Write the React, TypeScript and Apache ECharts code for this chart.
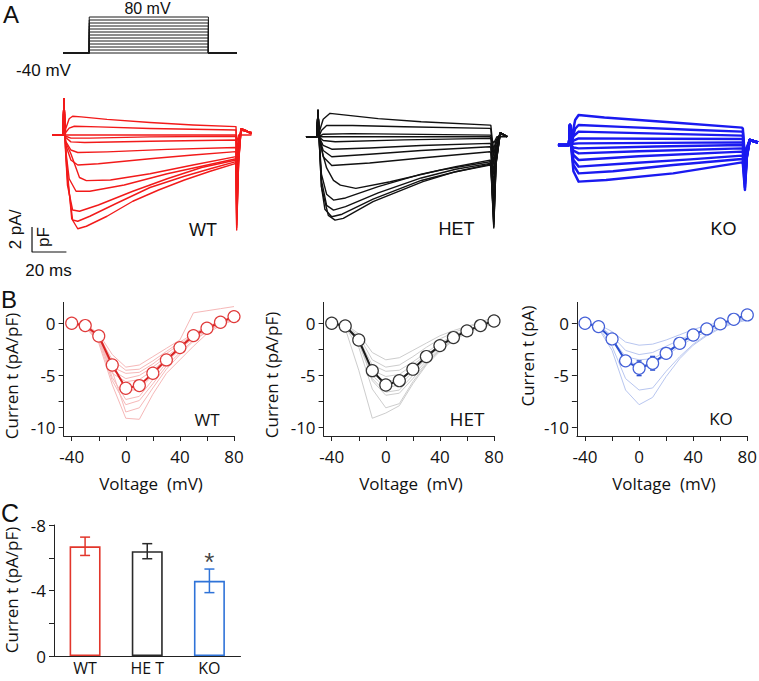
import React, { useEffect, useRef } from "react";
import * as echarts from "echarts";

// ---------- Panel A: stimulus ----------
const STEP_LEVELS = [-40, -30, -20, -10, 0, 10, 20, 30, 40, 50, 60, 70, 80]; // mV
const STEP_ON = 0;
const STEP_OFF = 100; // ms
const HOLD_START = -22;
const HOLD_END = 124;

// ---------- Panel A: current traces (ms, pA/pF) ----------
const WT_ONSET = [[-7, 0], [-0.6, 0], [0, 2.9], [0.6, 0]];
const WT_TRACES = [
  [[1, 0.5], [3, 1.3], [5, 1.5], [10, 1.45], [25, 1.25], [50, 1.0], [75, 0.8], [100, 0.67], [100.4, -1.2], [101.5, -0.3], [103, 0.5], [106, 0.3], [109, 0.2]],
  [[1, 0.2], [3, 0.55], [6, 0.7], [20, 0.65], [50, 0.52], [100, 0.4], [100.4, -2.0], [101.5, -0.5], [103, 0.4], [106, 0.3], [109, 0.2]],
  [[1, 0], [100, 0], [100.4, -0.6], [101.5, 0], [109, 0]],
  [[1, -0.1], [4, -0.25], [15, -0.25], [50, -0.15], [100, -0.1], [100.4, -3.0], [101.5, -0.8], [103, 0.4], [106, 0.3], [109, 0.2]],
  [[1, -0.2], [4, -0.55], [12, -0.6], [50, -0.5], [100, -0.4], [100.4, -4.0], [101.5, -1.0], [103, 0.4], [106, 0.3], [109, 0.15]],
  [[1, -0.5], [4, -1.2], [8, -1.4], [25, -1.35], [60, -1.15], [100, -1.0], [100.4, -4.8], [101.5, -1.3], [103, 0.4], [106, 0.3], [109, 0.1]],
  [[1, -0.8], [4, -2.0], [8, -2.4], [20, -2.3], [50, -1.9], [75, -1.6], [100, -1.33], [100.4, -5.6], [101.5, -1.5], [103, 0.5], [106, 0.3], [109, 0.1]],
  [[1, -0.6], [4, -1.5], [9, -3.4], [13, -3.65], [27, -3.6], [50, -3.1], [75, -2.4], [100, -1.73], [100.4, -6.3], [101.5, -1.8], [103, 0.5], [106, 0.3], [109, 0.1]],
  [[1, -1.2], [3, -3.5], [7, -4.5], [15, -4.5], [35, -4.0], [60, -3.1], [80, -2.5], [100, -1.9], [100.4, -6.8], [101.5, -2.0], [103, 0.5], [106, 0.35], [109, 0.1]],
  [[1, -1.5], [2, -4.0], [5, -6.0], [9, -6.1], [20, -5.6], [40, -4.5], [60, -3.5], [80, -2.6], [100, -2.0], [100.4, -7.2], [101.5, -2.1], [103, 0.5], [106, 0.35], [109, 0.1]],
  [[1, -1.5], [2, -3.5], [5, -6.8], [8, -6.9], [15, -6.5], [30, -5.5], [50, -4.2], [70, -3.3], [85, -2.7], [100, -2.13], [100.4, -7.4], [101.5, -2.2], [103, 0.5], [106, 0.35], [109, 0.1]],
  [[1, -1.2], [2, -3.0], [4.5, -6.7], [8, -7.5], [13, -7.3], [25, -6.5], [40, -5.3], [55, -4.4], [70, -3.6], [85, -2.9], [100, -2.27], [100.4, -7.6], [101.5, -2.3], [103, 0.5], [106, 0.35], [109, 0.1]],
];

const HET_ONSET = [[-7, 0], [-0.6, 0], [0, 2.1], [0.6, 0]];
const HET_TRACES = [
  [[1, 0.5], [3, 1.4], [7, 1.87], [15, 1.75], [35, 1.45], [60, 1.2], [100, 0.93], [100.5, 0.9], [102.2, -1.5], [103.5, -0.4], [106, 0.3], [110, 0]],
  [[2, 0.5], [5, 0.9], [20, 0.9], [50, 0.8], [100, 0.67], [100.5, 0.6], [102.2, -2.2], [103.5, -0.6], [106, 0.3], [110, 0]],
  [[3, 0.2], [20, 0.25], [100, 0.13], [100.5, 0.1], [102.2, -1.0], [103.5, -0.3], [106, 0.2], [110, 0]],
  [[1, 0], [100, 0], [102.2, -0.5], [104, 0], [110, 0]],
  [[3, -0.3], [10, -0.4], [50, -0.25], [100, -0.13], [100.5, -0.2], [102.2, -3.0], [103.5, -0.9], [106, 0.3], [110, 0]],
  [[3, -0.7], [8, -1.0], [30, -0.9], [60, -0.7], [100, -0.53], [100.5, -0.6], [102.2, -4.0], [103.5, -1.2], [106, 0.3], [110, 0]],
  [[3, -1.1], [8, -1.6], [30, -1.4], [60, -1.1], [100, -0.8], [100.5, -0.9], [102.2, -4.8], [103.5, -1.4], [106, 0.3], [110, 0]],
  [[3, -1.6], [8, -2.3], [30, -2.1], [60, -1.7], [100, -1.2], [100.5, -1.3], [102.2, -5.5], [103.5, -1.6], [106, 0.3], [110, 0]],
  [[3, -1.5], [5, -2.5], [9, -3.5], [13, -3.87], [22, -4.13], [42, -3.6], [71, -2.67], [100, -2.0], [100.5, -2.1], [102.2, -6.3], [103.5, -1.9], [106, 0.3], [110, 0]],
  [[2, -3.0], [5, -4.6], [9, -5.07], [16, -4.9], [35, -4.0], [60, -3.0], [80, -2.4], [100, -1.87], [100.5, -2.0], [102.2, -6.8], [103.5, -2.0], [106, 0.3], [110, 0]],
  [[2, -3.5], [5, -5.5], [9, -5.87], [16, -5.6], [35, -4.5], [60, -3.3], [80, -2.6], [100, -2.13], [100.5, -2.2], [102.2, -7.0], [103.5, -2.1], [106, 0.3], [110, 0]],
  [[2, -4.0], [4, -5.8], [8, -6.4], [14, -6.2], [32, -5.0], [60, -3.5], [80, -2.8], [100, -2.2], [100.5, -2.3], [102.2, -7.2], [103.5, -2.2], [106, 0.3], [110, 0]],
  [[2, -4.0], [3.1, -4.67], [6, -6.3], [9.9, -6.67], [14.7, -6.53], [32, -5.2], [61, -3.6], [80, -2.8], [100, -2.27], [100.5, -2.4], [102.2, -7.3], [103.5, -2.2], [106, 0.3], [110, 0]],
];

const KO_ONSET = [[-7, 0], [-0.6, 0], [0, 1.6], [0.6, 0]];
const KO_TRACES = [
  [[1, 0.6], [3, 2.0], [5, 2.4], [20, 2.2], [60, 1.8], [100, 1.39], [100.5, 1.3], [101.7, -1.0], [102.8, -0.2], [104.5, 0.4], [107, 0.3], [109.3, 0.2]],
  [[1, 0.4], [3, 1.3], [5, 1.6], [30, 1.45], [70, 1.22], [100, 1.07], [100.5, 1.0], [101.7, -1.3], [102.8, -0.3], [104.5, 0.4], [107, 0.3], [109.3, 0.2]],
  [[2, 0.7], [5, 1.07], [40, 0.95], [100, 0.75], [100.5, 0.7], [101.7, -1.6], [102.8, -0.4], [104.5, 0.4], [107, 0.3], [109.3, 0.2]],
  [[2, 0.35], [5, 0.53], [50, 0.5], [100, 0.48], [100.5, 0.45], [101.7, -1.9], [102.8, -0.5], [104.5, 0.4], [107, 0.3], [109.3, 0.2]],
  [[2, 0.1], [5, 0.13], [100, 0.21], [100.5, 0.2], [101.7, -2.1], [102.8, -0.6], [104.5, 0.4], [107, 0.3], [109.3, 0.2]],
  [[2, -0.2], [5, -0.27], [50, -0.12], [100, 0], [100.5, 0], [101.7, -2.4], [102.8, -0.7], [104.5, 0.4], [107, 0.3], [109.3, 0.2]],
  [[2, -0.45], [5, -0.67], [40, -0.5], [100, -0.27], [100.5, -0.3], [101.7, -2.7], [102.8, -0.8], [104.5, 0.4], [107, 0.3], [109.3, 0.2]],
  [[2, -0.8], [5, -1.2], [40, -0.9], [100, -0.53], [100.5, -0.6], [101.7, -2.9], [102.8, -0.9], [104.5, 0.4], [107, 0.3], [109.3, 0.2]],
  [[2, -1.2], [5, -1.73], [30, -1.5], [70, -1.15], [100, -0.85], [100.5, -0.9], [101.7, -3.1], [102.8, -0.9], [104.5, 0.4], [107, 0.3], [109.3, 0.2]],
  [[2, -1.6], [5, -2.27], [25, -2.1], [60, -1.6], [100, -1.12], [100.5, -1.2], [101.7, -3.4], [102.8, -1.0], [104.5, 0.4], [107, 0.3], [109.3, 0.2]],
  [[2, -2.1], [5, -2.93], [21, -2.8], [60, -2.27], [100, -1.39], [100.5, -1.5], [101.7, -3.6], [102.8, -1.0], [104.5, 0.4], [107, 0.3], [109.3, 0.2]],
];

// scale bar: 20 ms x 2 pA/pF
const SCALE_ORIGIN = [-18.6, -9.36];
const SCALE_MS = 20;
const SCALE_PA = 2;

// ---------- Panel B: I-V curves ----------
const VOLTS = [-40, -30, -20, -10, 0, 10, 20, 30, 40, 50, 60, 70, 80];
const WT_MEAN = [0, -0.22, -1.22, -4.0, -6.23, -5.97, -4.79, -3.51, -2.33, -1.18, -0.48, 0.1, 0.64];
const HET_MEAN = [0, -0.26, -1.6, -4.54, -5.91, -5.5, -4.4, -3.19, -2.14, -1.37, -0.73, -0.22, 0.22];
const KO_MEAN = [0, -0.32, -1.5, -3.6, -4.31, -3.83, -2.88, -1.92, -1.12, -0.54, -0.06, 0.38, 0.8];
const KO_SEM = [0, 0.05, 0.2, 0.35, 0.7, 0.65, 0.4, 0.3, 0.25, 0.2, 0.15, 0.1, 0.1];

const WT_CELLS = [
  [0, -0.1, -1.0, -3.0, -4.2, -4.0, -3.2, -2.4, -1.6, 1.0, 1.2, 1.4, 1.6],
  [0, -0.2, -1.2, -3.5, -4.5, -4.4, -3.6, -2.7, -1.8, -1.0, -0.3, 0.2, 0.6],
  [0, -0.3, -1.5, -4.2, -4.8, -4.7, -3.9, -2.9, -2.0, -1.1, -0.4, 0.1, 0.5],
  [0, -0.2, -1.3, -4.5, -5.3, -5.0, -4.2, -3.2, -2.2, -1.2, -0.5, 0.0, 0.4],
  [0, -0.3, -1.6, -4.8, -5.6, -5.4, -4.5, -3.4, -2.3, -1.3, -0.6, 0.0, 0.5],
  [0, -0.2, -1.0, -3.8, -6.5, -6.3, -5.0, -3.6, -2.4, -1.4, -0.6, 0.1, 0.7],
  [0, -0.3, -1.4, -5.2, -7.3, -7.0, -5.4, -3.8, -2.5, -1.4, -0.7, 0.1, 0.6],
  [0, -0.4, -1.7, -5.5, -7.8, -7.4, -5.8, -4.1, -2.8, -1.6, -0.8, 0.0, 0.5],
  [0, -0.2, -1.2, -4.6, -8.5, -8.1, -6.2, -4.4, -3.0, -1.7, -0.8, -0.1, 0.4],
  [0, -0.3, -1.9, -5.9, -9.1, -9.2, -6.8, -4.8, -3.5, -2.2, -1.0, -0.2, 0.3],
];
const HET_CELLS = [
  [0, -0.1, -1.0, -2.8, -3.5, -3.3, -2.6, -1.9, -1.2, -0.7, -0.3, 0.1, 0.6],
  [0, -0.2, -1.2, -3.5, -4.2, -4.0, -3.2, -2.3, -1.5, -0.9, -0.4, 0.0, 0.4],
  [0, -0.3, -1.5, -4.0, -4.6, -4.5, -3.7, -2.8, -1.9, -1.2, -0.6, -0.2, 0.3],
  [0, -0.2, -1.6, -4.5, -5.1, -4.9, -4.0, -3.0, -2.1, -1.3, -0.7, -0.2, 0.2],
  [0, -0.3, -1.8, -4.8, -5.6, -5.4, -4.3, -3.2, -2.2, -1.4, -0.8, -0.3, 0.2],
  [0, -0.2, -1.4, -5.0, -6.2, -5.9, -4.7, -3.4, -2.3, -1.5, -0.8, -0.3, 0.1],
  [0, -0.3, -1.9, -5.3, -6.6, -6.4, -5.0, -3.6, -2.5, -1.6, -0.9, -0.4, 0.0],
  [0, -0.2, -1.5, -5.5, -6.9, -6.7, -5.3, -3.8, -2.6, -1.7, -0.9, -0.4, -0.1],
  [0, -0.4, -2.3, -6.3, -8.1, -7.7, -5.6, -3.9, -2.5, -1.5, -0.8, -0.2, 0.3],
  [0, -0.5, -4.5, -9.1, -8.6, -7.9, -5.8, -4.0, -2.7, -1.6, -0.9, -0.3, 0.2],
];
const KO_CELLS = [
  [0, -0.1, -0.8, -1.8, -2.1, -2.0, -1.6, -1.1, -0.6, -0.2, 0.1, 0.3, 0.5],
  [0, -0.2, -1.2, -2.6, -3.0, -2.8, -2.2, -1.6, -1.0, -0.5, -0.1, 0.2, 0.5],
  [0, -0.3, -1.5, -3.2, -3.5, -3.4, -2.7, -1.9, -1.2, -0.6, -0.1, 0.3, 0.7],
  [0, -0.2, -1.3, -3.6, -4.0, -3.9, -3.1, -2.2, -1.4, -0.8, -0.3, 0.2, 0.6],
  [0, -0.4, -2.2, -5.3, -6.4, -6.2, -4.6, -3.2, -2.0, -1.1, -0.4, 0.1, 0.4],
  [0, -0.5, -2.6, -6.4, -7.8, -7.1, -5.1, -3.4, -2.1, -1.2, -0.5, 0.0, 0.3],
];
const IV_X_TICKS = [-40, -20, 0, 20, 40, 60, 80];
const IV_X_LABELS = [-40, 0, 40, 80];
const IV_Y_TICKS = [-10, -7.5, -5, -2.5, 0];
const IV_Y_LABELS = [-10, -5, 0];

// ---------- Panel C: peak current bars ----------
const GROUPS = ["WT", "HE T", "KO"];
const PEAK_MEAN = [-6.7, -6.4, -4.59];
const PEAK_SEM = [0.56, 0.46, 0.72];
const BAR_Y_TICKS = [-8, -6, -4, -2, 0];
const BAR_Y_LABELS = [-8, -4, 0];

const FA = "'Liberation Sans', Arial, sans-serif";
const FB = "'Open Sans', 'Noto Sans', sans-serif";

const RED = "#f21a1a";
const BLUE = "#1a1af0";
const BLACK = "#111111";

function txt(text: string, x: number, y: number, size: number, family: string, rot = 0) {
  return {
    type: "text",
    x,
    y,
    rotation: rot,
    silent: true,
    style: {
      text,
      fontSize: size,
      fontFamily: family,
      fill: "#111",
      align: "center",
      verticalAlign: "middle",
      textAlign: "center",
      textVerticalAlign: "middle",
    },
  };
}

function hiddenX(gridIndex: number, min: number, max: number) {
  return { type: "value", gridIndex, min, max, show: false };
}

function ivX(gridIndex: number) {
  return {
    type: "value",
    gridIndex,
    min: -46,
    max: 80,
    axisLine: { show: true, onZero: false, lineStyle: { color: "#222", width: 1 } },
    axisTick: { show: true, length: 5, customValues: IV_X_TICKS, lineStyle: { color: "#222" } },
    axisLabel: { customValues: IV_X_LABELS, margin: 12, fontSize: 17, fontFamily: FB, color: "#111" },
    splitLine: { show: false },
  };
}
function ivY(gridIndex: number) {
  return {
    type: "value",
    gridIndex,
    min: -10.8,
    max: 2,
    axisLine: { show: true, onZero: false, lineStyle: { color: "#222", width: 1 } },
    axisTick: { show: true, length: 5, customValues: IV_Y_TICKS, lineStyle: { color: "#222" } },
    axisLabel: { customValues: IV_Y_LABELS, margin: 8, fontSize: 17, fontFamily: FB, color: "#111" },
    splitLine: { show: false },
  };
}

function errRender(colorFor: (i: number) => string, cap: number, width: number) {
  return (params: any, api: any) => {
    const x = api.value(0);
    const lo = api.coord([x, api.value(1)]);
    const hi = api.coord([x, api.value(2)]);
    const c = colorFor(params.dataIndex);
    const st = { stroke: c, lineWidth: width };
    return {
      type: "group",
      children: [
        { type: "line", shape: { x1: lo[0], y1: lo[1], x2: hi[0], y2: hi[1] }, style: st },
        { type: "line", shape: { x1: lo[0] - cap, y1: lo[1], x2: lo[0] + cap, y2: lo[1] }, style: st },
        { type: "line", shape: { x1: hi[0] - cap, y1: hi[1], x2: hi[0] + cap, y2: hi[1] }, style: st },
      ],
    };
  };
}

function buildOption() {
  const series: any[] = [];

  // stimulus
  STEP_LEVELS.forEach((v) => {
    series.push({
      type: "line",
      xAxisIndex: 0,
      yAxisIndex: 0,
      data: [[HOLD_START, -40], [STEP_ON, -40], [STEP_ON, v], [STEP_OFF, v], [STEP_OFF, -40], [HOLD_END, -40]],
      symbol: "none",
      clip: false,
      silent: true,
      lineStyle: { color: "#1a1a1a", width: 1 },
    });
  });

  const traceGroups: [number[][], number[][][], string, number, number][] = [
    [WT_ONSET, WT_TRACES, RED, 1, 1.4],
    [HET_ONSET, HET_TRACES, BLACK, 2, 1.4],
    [KO_ONSET, KO_TRACES, BLUE, 3, 2.5],
  ];
  traceGroups.forEach(([onset, traces, color, idx, w]) => {
    traces.forEach((tr) => {
      series.push({
        type: "line",
        xAxisIndex: idx,
        yAxisIndex: idx,
        data: [...onset, ...tr],
        symbol: "none",
        clip: false,
        silent: true,
        lineStyle: { color, width: w, join: "round" },
      });
    });
  });

  // scale bar
  series.push({
    type: "line",
    xAxisIndex: 1,
    yAxisIndex: 1,
    data: [
      [SCALE_ORIGIN[0], SCALE_ORIGIN[1] + SCALE_PA],
      [SCALE_ORIGIN[0], SCALE_ORIGIN[1]],
      [SCALE_ORIGIN[0] + SCALE_MS, SCALE_ORIGIN[1]],
    ],
    symbol: "none",
    clip: false,
    silent: true,
    lineStyle: { color: "#111", width: 1.2 },
  });

  // IV panels
  const ivGroups: [number[][], number[], string, string, string, number][] = [
    [WT_CELLS, WT_MEAN, "#f6b8b8", "#d92222", "#e03a3a", 4],
    [HET_CELLS, HET_MEAN, "#cdcdcd", "#1a1a1a", "#333333", 5],
    [KO_CELLS, KO_MEAN, "#b8c6f0", "#2b4fd0", "#4460d8", 6],
  ];
  ivGroups.forEach(([cells, mean, cellColor, meanColor, ring, idx]) => {
    cells.forEach((c) => {
      series.push({
        type: "line",
        xAxisIndex: idx,
        yAxisIndex: idx,
        data: VOLTS.map((v, i) => [v, c[i]]),
        symbol: "none",
        silent: true,
        z: 2,
        lineStyle: { color: cellColor, width: 1 },
      });
    });
    series.push({
      type: "line",
      xAxisIndex: idx,
      yAxisIndex: idx,
      data: VOLTS.map((v, i) => [v, mean[i]]),
      symbol: "circle",
      symbolSize: 12,
      silent: true,
      z: 5,
      itemStyle: { color: "#ffffff", borderColor: ring, borderWidth: 1.2 },
      lineStyle: { color: meanColor, width: 2 },
    });
  });
  series.push({
    type: "custom",
    xAxisIndex: 6,
    yAxisIndex: 6,
    z: 4,
    silent: true,
    data: VOLTS.map((v, i) => [v, KO_MEAN[i] - KO_SEM[i], KO_MEAN[i] + KO_SEM[i]]),
    renderItem: errRender(() => "#2b4fd0", 2.5, 1.5),
  });

  // bars
  const BAR_COLORS = ["#e2362b", "#2a2a2a", "#2f73d8"];
  series.push({
    type: "bar",
    xAxisIndex: 7,
    yAxisIndex: 7,
    barWidth: 31,
    silent: true,
    data: PEAK_MEAN.map((v, i) => ({
      value: v,
      itemStyle: { color: "#ffffff", borderColor: BAR_COLORS[i], borderWidth: 1.6 },
    })),
  });
  series.push({
    type: "custom",
    xAxisIndex: 7,
    yAxisIndex: 7,
    z: 4,
    silent: true,
    data: GROUPS.map((g, i) => [i, PEAK_MEAN[i] - PEAK_SEM[i], PEAK_MEAN[i] + PEAK_SEM[i]]),
    renderItem: errRender((i) => BAR_COLORS[i], 5, 1.5),
  });
  series.push({
    type: "scatter",
    xAxisIndex: 7,
    yAxisIndex: 7,
    silent: true,
    symbolSize: 1,
    itemStyle: { color: "rgba(0,0,0,0)" },
    data: [[2, PEAK_MEAN[2] - PEAK_SEM[2]]],
    label: {
      show: true,
      position: "top",
      distance: 0,
      offset: [0, 6],
      formatter: "*",
      fontSize: 26,
      fontFamily: FA,
      color: "#111",
    },
  });

  const grids = [
    { left: 63, top: 17, width: 174, height: 36 },
    { left: 29.6, top: 85, width: 223.6, height: 175 },
    { left: 283.6, top: 86.7, width: 223.6, height: 175 },
    { left: 535.6, top: 95, width: 223.6, height: 175 },
    { left: 63.6, top: 302.4, width: 170.4, height: 133.6 },
    { left: 323.6, top: 302.4, width: 170.4, height: 133.6 },
    { left: 576.9, top: 302.4, width: 170.4, height: 133.6 },
    { left: 54, top: 525, width: 186.5, height: 131 },
  ].map((g) => ({ ...g, containLabel: false, outerBoundsMode: "none" }));

  const xAxis: any[] = [
    hiddenX(0, HOLD_START, HOLD_END),
    hiddenX(1, -20, 110),
    hiddenX(2, -20, 110),
    hiddenX(3, -20, 110),
    ivX(4),
    ivX(5),
    ivX(6),
    {
      type: "category",
      gridIndex: 7,
      data: GROUPS,
      axisLine: { show: true, onZero: false, lineStyle: { color: "#222", width: 1 } },
      axisTick: { show: false },
      axisLabel: { margin: 4, fontSize: 16, lineHeight: 16, fontFamily: FB, color: "#111" },
      splitLine: { show: false },
    },
  ];
  const yAxis: any[] = [
    hiddenX(0, -40, 80),
    hiddenX(1, -10, 4),
    hiddenX(2, -10, 4),
    hiddenX(3, -10, 4),
    ivY(4),
    ivY(5),
    ivY(6),
    {
      type: "value",
      gridIndex: 7,
      min: -8,
      max: 0,
      inverse: true,
      axisLine: { show: true, onZero: false, lineStyle: { color: "#222", width: 1 } },
      axisTick: { show: true, length: 5, customValues: BAR_Y_TICKS, lineStyle: { color: "#222" } },
      axisLabel: { customValues: BAR_Y_LABELS, margin: 8, fontSize: 17, fontFamily: FB, color: "#111" },
      splitLine: { show: false },
    },
  ];

  const R = Math.PI / 2;
  const graphic = [
    txt("A", 11, 14, 24, FA),
    txt("80 mV", 147.5, 8.5, 16, FA),
    txt("-40 mV", 43.5, 70, 17, FA),
    txt("2 pA/", 15.5, 229.5, 17, FA, R),
    txt("pF", 43, 237, 17, FA, R),
    txt("20 ms", 48.5, 270, 17, FA),
    txt("WT", 203, 230, 18, FA),
    txt("HET", 456.5, 228.5, 18, FA),
    txt("KO", 723.5, 229, 18, FA),
    txt("B", 9, 299, 24, FA),
    txt("WT", 207, 419, 17, FB),
    txt("HET", 467, 419, 19, FB),
    txt("KO", 721, 418, 17, FB),
    txt("Voltage  (mV)", 151, 483, 17, FB),
    txt("Voltage  (mV)", 411, 483, 17, FB),
    txt("Voltage  (mV)", 664, 483, 17, FB),
    txt("Curren t (pA/pF)", 11.5, 376, 17, FB, R),
    txt("Curren t (pA/pF)", 271, 375, 17, FB, R),
    txt("Curren t (pA)", 527, 356, 17, FB, R),
    txt("C", 10, 513, 25, FA),
    txt("Curren t (pA/pF)", 11.5, 590, 17, FB, R),
  ];

  return {
    animation: false,
    backgroundColor: "#ffffff",
    grid: grids,
    xAxis,
    yAxis,
    series,
    graphic,
  };
}

export default function App() {
  const ref = useRef<HTMLDivElement>(null);
  useEffect(() => {
    document.body.style.margin = "0";
    const chart = echarts.init(ref.current as HTMLDivElement, null, { renderer: "svg" });
    chart.setOption(buildOption() as any);
    return () => chart.dispose();
  }, []);
  return (
    <div
      ref={ref}
      style={{ position: "absolute", left: 0, top: 0, width: 759, height: 681 }}
    />
  );
}
